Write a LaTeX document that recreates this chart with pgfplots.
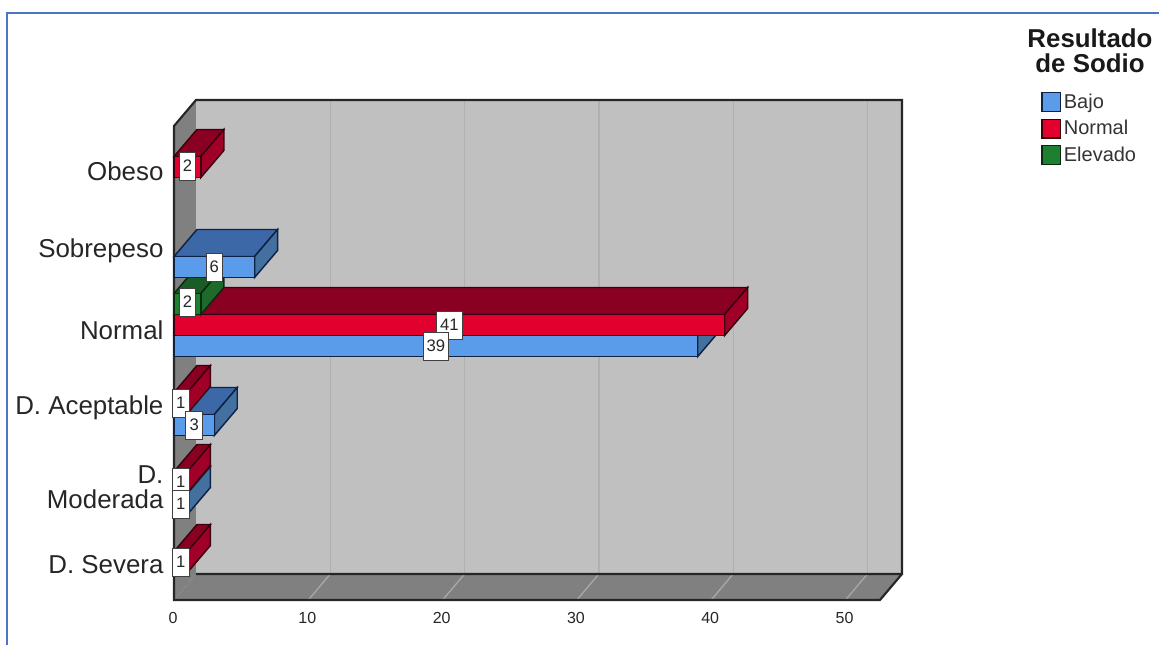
\documentclass[border=0pt]{standalone}
\usepackage{fontspec}
\setmainfont{Liberation Sans}
\usepackage{pgfplots}
\pgfplotsset{compat=1.18}

\definecolor{wallback}{HTML}{C0C0C0}
\definecolor{wallside}{HTML}{808080}
\definecolor{gridback}{HTML}{B0B0B0}
\definecolor{gridfloor}{HTML}{A8A8A8}
\definecolor{framecol}{HTML}{4A76C8}
\definecolor{bajoF}{HTML}{5A9BEA}
\definecolor{bajoT}{HTML}{3D68A8}
\definecolor{bajoS}{HTML}{44709F}
\definecolor{bajoE}{HTML}{0E2248}
\definecolor{normF}{HTML}{E2002F}
\definecolor{normT}{HTML}{8A0022}
\definecolor{normS}{HTML}{A00028}
\definecolor{normE}{HTML}{3A000E}
\definecolor{elevF}{HTML}{1F7F30}
\definecolor{elevT}{HTML}{1A5C25}
\definecolor{elevS}{HTML}{1E6A2A}
\definecolor{elevE}{HTML}{0A2A10}

% One bar with depth: value, vertical centre of the front face, colour prefix
\newcommand{\depthbar}[3]{%
  \pgfmathsetmacro{\xb}{#1+1.71}%
  \pgfmathsetmacro{\yl}{#2-10.5}%
  \pgfmathsetmacro{\yh}{#2+10.5}%
  \pgfmathsetmacro{\ylb}{\yl+27}%
  \pgfmathsetmacro{\yhb}{\yh+27}%
  \addplot[fill=#3T,draw=#3E,line width=1.1pt,forget plot]
    coordinates {(0,\yh) (1.71,\yhb) (\xb,\yhb) (#1,\yh)} --cycle;
  \addplot[fill=#3S,draw=#3E,line width=1.1pt,forget plot]
    coordinates {(#1,\yh) (\xb,\yhb) (\xb,\ylb) (#1,\yl)} --cycle;
  \addplot[fill=#3F,draw=#3E,line width=1.1pt,forget plot]
    coordinates {(0,\yl) (0,\yh) (#1,\yh) (#1,\yl)} --cycle;
}
% Value box centred on the front face of a bar
\newcommand{\valuebox}[2]{%
  \pgfmathsetmacro{\xm}{#1/2}%
  \edef\placebox{\noexpand\node[fill=white,draw=black!75,line width=0.6pt,
    minimum width=12.4pt,minimum height=21pt,inner xsep=2.5pt,inner ysep=0pt,
    font=\noexpand\fontsize{12.5}{13}\noexpand\selectfont,text=black!85]
    at (axis cs:\xm,#2) {#1};}%
  \placebox
}

\begin{document}
\begin{tikzpicture}
\useasboundingbox (0,0) rectangle (869.25pt,483pt);
\draw[framecol,line width=1.2pt] (5.25pt,-2pt) -- (5.25pt,473.25pt) -- (872pt,473.25pt);
\begin{axis}[
  at={(130.5pt,33pt)}, anchor=south west,
  scale only axis, width=546pt, height=375pt,
  xmin=0, xmax=54.21, ymin=0, ymax=500,
  clip=false,
  axis line style={draw=none},
  tick style={draw=none},
  xtick={0,10,20,30,40,50},
  ytick={35,113,192,270,349,429},
  yticklabels={D. Severa,{D.\\Moderada},D. Aceptable,Normal,Sobrepeso,Obeso},
  /pgf/number format/assume math mode=true,
  xticklabel style={font=\fontsize{12}{14}\selectfont,text=black!85,yshift=-5.5pt,xshift=-0.7pt},
  yticklabel style={font=\fontsize{19.4}{19}\selectfont,text=black!85,align=right,xshift=-4.4pt},
  legend cell align=left,
  legend image code/.code={\draw[#1,line width=0.9pt] (0,-7pt) rectangle (14pt,7pt);},
  legend style={
    at={(1.191,1.016)}, anchor=north west, draw=none, fill=none,
    inner sep=0pt, row sep=4.9pt,
    font=\fontsize{15}{16}\selectfont, text=black!80,
    nodes={inner xsep=2pt,inner ysep=0pt},
  },
]
\addlegendimage{fill=bajoF,draw=bajoE}
\addlegendimage{fill=normF,draw=normE}
\addlegendimage{fill=elevF,draw=elevE}
\legend{Bajo,Normal,Elevado}

% Back wall, left wall and floor
\addplot[fill=wallback,draw=none,forget plot] coordinates {(1.638,26) (54.21,26) (54.21,500) (1.638,500)} --cycle;
\addplot[fill=wallside,draw=none,forget plot] coordinates {(0,0) (1.638,26) (1.638,500) (0,474)} --cycle;
\addplot[fill=wallside,draw=none,forget plot] coordinates {(0,0) (52.57,0) (54.21,26) (1.638,26)} --cycle;

% Grid lines on the back wall and across the floor
\pgfplotsinvokeforeach{10,20,30,40,50}{
  \pgfmathsetmacro{\gx}{#1+1.638}
  \addplot[gridback,line width=1pt,forget plot] coordinates {(\gx,26) (\gx,500)};
  \addplot[gridfloor,line width=1pt,forget plot] coordinates {(#1,0) (\gx,26)};
}

% Edges of the box
\addplot[black!85,line width=1.6pt,forget plot] coordinates {(1.638,26) (54.21,26) (54.21,500) (1.638,500) (0,474) (0,0) (52.57,0) (54.21,26)};

% Bars, drawn from the lowest row upward
\depthbar{1}{38}{norm}
\depthbar{1}{96}{bajo}
\depthbar{1}{118}{norm}
\depthbar{3}{175}{bajo}
\depthbar{1}{197}{norm}
\depthbar{39}{254}{bajo}
\depthbar{41}{275}{norm}
\depthbar{2}{296}{elev}
\depthbar{6}{333}{bajo}
\depthbar{2}{433}{norm}

% Value boxes
\valuebox{1}{38}
\valuebox{1}{118}
\valuebox{1}{96}
\valuebox{1}{197}
\valuebox{3}{175}
\valuebox{41}{275}
\valuebox{39}{254}
\valuebox{2}{298}
\valuebox{6}{333}
\valuebox{2}{434}
\end{axis}
\node[align=center,font=\fontsize{19.4}{19}\selectfont\bfseries,text=black!90]
  at (817.5pt,445pt) {Resultado\\de Sodio};
\end{tikzpicture}
\end{document}
